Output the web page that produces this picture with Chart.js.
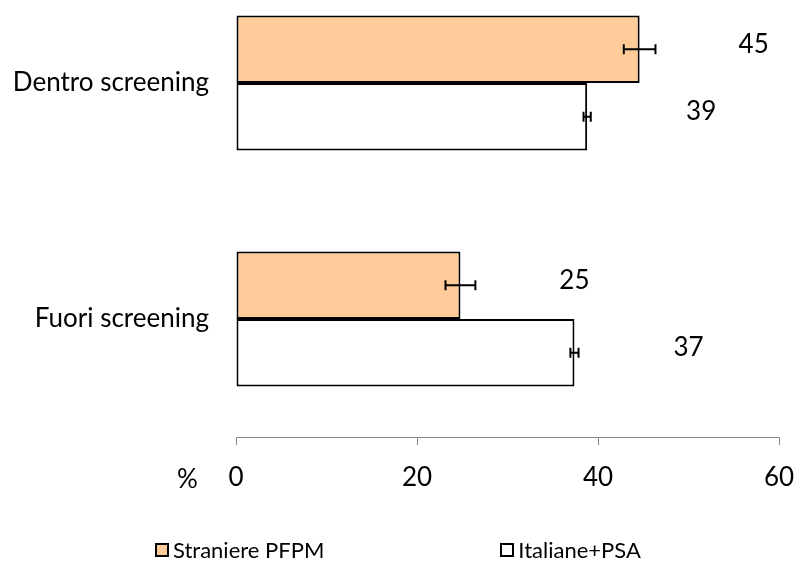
<!DOCTYPE html>
<html>
<head>
<meta charset="utf-8">
<script src="https://cdn.jsdelivr.net/npm/chart.js@4"></script>
<style>
  body { margin: 0; background: #fff; width: 795px; height: 562px; overflow: hidden; position: relative; font-family: Lato, sans-serif; }
  #wrap { position: absolute; left: 0; top: -35px; width: 795px; height: 597px; }
  #pct { position: absolute; left: 177px; top: 462px; font-size: 26px; color: #000; }
  #legend { position: absolute; top: 536px; left: 155px; display: flex; gap: 176px; font-size: 22px; color: #000; }
  .item { display: flex; align-items: center; }
  .box { width: 10px; height: 10px; border: 2px solid #000; margin-right: 4px; }
</style>
</head>
<body>
<div id="wrap"><canvas id="chart" width="795" height="597"></canvas></div>
<div id="pct">%</div>
<div id="legend"></div>
<script>
const categories = ["Dentro screening", "Fuori screening"];
const seriesNames = ["Straniere PFPM", "Italiane+PSA"];
const straniere = [44.6, 24.8];
const straniereErr = [1.75, 1.65];
const italiane = [38.8, 37.4];
const italianeErr = [0.4, 0.45];
const xTicks = [0, 20, 40, 60];

const errors = [straniereErr, italianeErr];

// error bars + value labels
const errorBars = {
    id: "errorBars",
    afterDatasetsDraw(chart) {
        const ctx = chart.ctx;
        const x = chart.scales.x;
        ctx.save();
        ctx.strokeStyle = "#000";
        ctx.lineWidth = 2;
        chart.data.datasets.forEach((ds, i) => {
            chart.getDatasetMeta(i).data.forEach((bar, j) => {
                const v = ds.data[j], e = errors[i][j];
                const x1 = x.getPixelForValue(v - e), x2 = x.getPixelForValue(v + e);
                ctx.beginPath();
                ctx.moveTo(x1, bar.y); ctx.lineTo(x2, bar.y);
                ctx.moveTo(x1, bar.y - 5); ctx.lineTo(x1, bar.y + 5);
                ctx.moveTo(x2, bar.y - 5); ctx.lineTo(x2, bar.y + 5);
                ctx.stroke();
                ctx.fillStyle = "#000";
                ctx.font = "26px Lato";
                ctx.textAlign = "center";
                ctx.textBaseline = "middle";
                ctx.fillText(Math.round(v), bar.x + 114, bar.y - 5);
            });
        });
        ctx.restore();
    }
};

const chart = new Chart(document.getElementById("chart"), {
    type: "bar",
    data: {
        labels: categories,
        datasets: [
            { label: seriesNames[0], data: straniere, backgroundColor: "#FFCC99", borderColor: "#000", borderWidth: 2, borderSkipped: false },
            { label: seriesNames[1], data: italiane, backgroundColor: "#FFFFFF", borderColor: "#000", borderWidth: 2, borderSkipped: false }
        ]
    },
    options: {
        indexAxis: "y",
        responsive: false,
        animation: false,
        layout: { padding: { top: 0, right: 16, left: 0, bottom: 0 } },
        datasets: { bar: { categoryPercentage: 0.572, barPercentage: 1 } },
        plugins: { legend: { display: false }, tooltip: { enabled: false } },
        scales: {
            x: {
                min: 0, max: 60,
                afterFit: s => { s.height = 125; s.paddingLeft = 0; s.paddingRight = 0; },
                afterBuildTicks: s => { s.ticks = xTicks.map(v => ({ value: v })); },
                grid: { drawOnChartArea: false, drawTicks: true, tickLength: 8, color: "#888" },
                border: { color: "#888", width: 1 },
                ticks: { color: "#000", font: { family: "Lato", size: 26 }, padding: 17, maxRotation: 0 }
            },
            y: {
                afterFit: s => { s.width = 236; s.paddingTop = 0; s.paddingBottom = 0; },
                grid: { display: false, drawTicks: false },
                border: { display: false },
                ticks: { color: "#000", font: { family: "Lato", size: 26 }, padding: 27 }
            }
        }
    },
    plugins: [errorBars]
});

const legend = document.getElementById("legend");
chart.options.plugins.legend.labels.generateLabels(chart).forEach(item => {
    const el = document.createElement("div");
    el.className = "item";
    const box = document.createElement("span");
    box.className = "box";
    box.style.background = item.fillStyle;
    el.appendChild(box);
    el.appendChild(document.createTextNode(item.text));
    legend.appendChild(el);
});
</script>
</body>
</html>
